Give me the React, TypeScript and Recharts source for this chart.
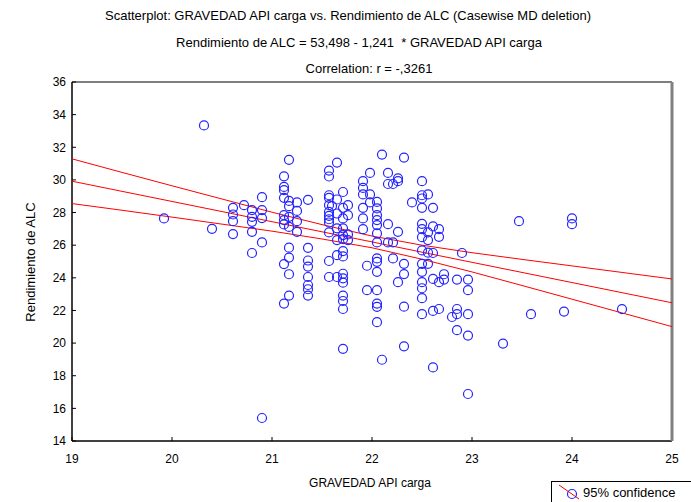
import { ScatterChart, Scatter, XAxis, YAxis } from "recharts"

// GRAVEDAD API carga (x) and Rendimiento de ALC (y)
const gravedad = [
  19.92, 20.32, 20.4, 20.61, 20.61, 20.61, 20.61, 20.72, 20.8, 20.8, 20.8, 20.8, 20.8,
  20.9, 20.9, 20.9, 20.9, 20.9,
  21.12, 21.12, 21.12, 21.12, 21.12, 21.12, 21.12, 21.12, 21.12,
  21.17, 21.17, 21.17, 21.17, 21.17, 21.17, 21.17, 21.17, 21.17,
  21.25, 21.25, 21.25, 21.25,
  21.36, 21.36, 21.36, 21.36, 21.36, 21.36, 21.36, 21.36,
  21.57, 21.57, 21.57, 21.57, 21.57, 21.57, 21.57, 21.57, 21.57, 21.57, 21.57, 21.57,
  21.6,
  21.65, 21.65, 21.65, 21.65, 21.65, 21.65, 21.65,
  21.71, 21.71, 21.71, 21.71, 21.71, 21.71, 21.71, 21.71, 21.71, 21.71, 21.71, 21.71, 21.71, 21.71, 21.71,
  21.76, 21.76, 21.76, 21.76,
  21.91, 21.91, 21.91, 21.91, 21.91, 21.91,
  21.95, 21.95,
  21.98, 21.98, 21.98,
  22.05, 22.05, 22.05, 22.05, 22.05, 22.05, 22.05, 22.05, 22.05, 22.05, 22.05, 22.05, 22.05, 22.05,
  22.1, 22.1,
  22.16, 22.16, 22.16, 22.16,
  22.21, 22.21, 22.21,
  22.26, 22.26, 22.26, 22.26,
  22.32, 22.32, 22.32, 22.32, 22.32,
  22.4,
  22.5, 22.5, 22.5, 22.5, 22.5, 22.5, 22.5, 22.5, 22.5, 22.5, 22.5, 22.5, 22.5, 22.5,
  22.56, 22.56, 22.56, 22.56, 22.56,
  22.61, 22.61, 22.61, 22.61, 22.61, 22.61,
  22.67, 22.67, 22.67, 22.67,
  22.72, 22.72,
  22.8,
  22.85, 22.85, 22.85, 22.85,
  22.9,
  22.96, 22.96, 22.96, 22.96, 22.96,
  23.31, 23.47, 23.59, 23.92, 24.0, 24.0, 24.5,
]

const rendimiento = [
  27.64, 33.34, 27.0, 28.29, 27.88, 27.47, 26.68, 28.45, 28.15, 27.74, 27.43, 26.82, 25.52,
  28.94, 28.15, 27.66, 26.17, 15.41,
  30.22, 29.57, 29.37, 28.9, 27.84, 27.53, 27.27, 24.84, 22.42,
  31.23, 28.71, 28.39, 27.74, 27.12, 25.85, 25.24, 24.22, 22.91,
  28.62, 28.1, 27.47, 26.82,
  28.78, 25.84, 25.06, 24.69, 24.05, 23.56, 23.3, 22.91,
  30.57, 30.21, 29.06, 28.9, 28.45, 28.04, 27.8, 27.59, 27.39, 26.78, 25.03, 24.05,
  28.4,
  31.06, 28.8, 27.94, 27.03, 26.31, 25.39, 24.05,
  29.26, 28.29, 27.64, 27.03, 26.62, 26.37, 25.64, 25.31, 24.25, 23.97, 23.7, 22.91, 22.58, 22.09, 19.65,
  28.45, 27.84, 26.66, 26.31,
  29.92, 29.51, 29.11, 28.29, 27.64, 26.98,
  24.74, 23.24,
  30.43, 29.11, 28.62,
  28.65, 28.25, 27.84, 27.54, 27.23, 26.72, 26.17, 25.19, 24.98, 24.37, 23.24, 22.42, 22.22, 21.28,
  31.55, 18.98,
  30.43, 29.75, 27.29, 26.17,
  29.75, 26.17, 25.19,
  30.1, 29.92, 26.82, 23.73,
  31.37, 24.86, 24.23, 22.23, 19.8,
  28.62,
  29.92, 29.06, 28.86, 28.29, 27.31, 26.98, 26.49, 25.68, 24.86, 24.37, 23.73, 23.36, 22.75, 21.77,
  29.11, 26.78, 26.31, 25.54, 24.86,
  28.29, 27.15, 25.52, 23.93, 21.97, 18.51,
  26.98, 26.51, 23.73, 22.09,
  24.22, 23.89,
  21.6,
  23.89, 22.09, 21.77, 20.79,
  25.52,
  23.89, 23.24, 21.77, 20.46, 16.88,
  19.97, 27.47, 21.77, 21.93, 27.64, 27.29, 22.08,
]

// fitted line and 95% confidence band, read at half-unit steps
const bandX = [19, 19.5, 20, 20.5, 21, 21.5, 22, 22.5, 23, 23.5, 24, 24.5, 25]
const fitY = [29.92, 29.3, 28.68, 28.06, 27.44, 26.82, 26.2, 25.57, 24.95, 24.33, 23.71, 23.09, 22.47]
const upperY = [31.29, 30.46, 29.64, 28.83, 28.02, 27.26, 26.56, 26.0, 25.54, 25.13, 24.73, 24.33, 23.93]
const lowerY = [28.55, 28.14, 27.72, 27.29, 26.86, 26.38, 25.84, 25.14, 24.36, 23.53, 22.69, 21.85, 21.01]

const xTicks = [19, 20, 21, 22, 23, 24, 25]
const yTicks = [14, 16, 18, 20, 22, 24, 26, 28, 30, 32, 34, 36]

const points = gravedad.map((x, i) => ({ x, y: rendimiento[i] }))
const toLine = (ys: number[]) => bandX.map((x, i) => ({ x, y: ys[i] }))

const FONT = '"Liberation Sans", Arial, sans-serif'
const tickStyle = { fontSize: 12, fill: "#000", fontFamily: FONT }

const Circle = (p: any) => (
  <circle cx={p.cx} cy={p.cy} r={4.5} fill="none" stroke="#2424ff" strokeWidth={1.2} />
)
const NoDot = () => <g />

const titleStyle = (top: number, center: number) => ({
  position: "absolute" as const,
  top,
  left: center - 320,
  width: 640,
  textAlign: "center" as const,
  fontSize: 13,
  whiteSpace: "nowrap" as const,
})

export default function App() {
  return (
    <div style={{ position: "absolute", left: 0, top: 0, width: 691, height: 502, background: "#fff", fontFamily: FONT }}>
      <div style={titleStyle(8, 348)}>
        Scatterplot: GRAVEDAD API carga vs. Rendimiento de ALC (Casewise MD deletion)
      </div>
      <div style={titleStyle(35, 359)}>Rendimiento de ALC = 53,498 - 1,241&nbsp; * GRAVEDAD API carga</div>
      <div style={titleStyle(61, 369)}>Correlation: r = -,3261</div>

      <ScatterChart width={691} height={502} margin={{ top: 81, right: 18, bottom: 60, left: 71 }}>
        <XAxis
          type="number"
          dataKey="x"
          domain={[19, 25]}
          ticks={xTicks}
          height={1}
          tickSize={-4}
          tickMargin={17}
          tick={tickStyle}
          stroke="#000"
          axisLine={{ stroke: "#000", strokeWidth: 1.5 }}
          allowDataOverflow
        />
        <XAxis
          xAxisId="top"
          orientation="top"
          type="number"
          domain={[19, 25]}
          ticks={xTicks}
          height={1}
          tickSize={-4}
          tick={false}
          stroke="#000"
        />
        <YAxis
          type="number"
          dataKey="y"
          domain={[14, 36]}
          ticks={yTicks}
          width={1}
          tickSize={-4}
          tickMargin={10}
          tick={tickStyle}
          stroke="#000"
          axisLine={{ stroke: "#000", strokeWidth: 1.5 }}
          allowDataOverflow
        />
        <YAxis
          yAxisId="right"
          orientation="right"
          type="number"
          domain={[14, 36]}
          ticks={yTicks}
          width={1}
          tickSize={-4}
          tick={false}
          stroke="#444"
          axisLine={{ stroke: "#808080", strokeWidth: 3 }}
        />
        <Scatter data={toLine(upperY)} line={{ stroke: "#ff0000", strokeWidth: 1 }} shape={NoDot} isAnimationActive={false} />
        <Scatter data={toLine(fitY)} line={{ stroke: "#ff0000", strokeWidth: 1 }} shape={NoDot} isAnimationActive={false} />
        <Scatter data={toLine(lowerY)} line={{ stroke: "#ff0000", strokeWidth: 1 }} shape={NoDot} isAnimationActive={false} />
        <Scatter data={points} shape={Circle} isAnimationActive={false} />
      </ScatterChart>

      <div style={{ position: "absolute", top: 476, left: 0, width: 740, textAlign: "center", fontSize: 12 }}>
        GRAVEDAD API carga
      </div>
      <div
        style={{
          position: "absolute",
          left: 30,
          top: 262,
          fontSize: 13,
          whiteSpace: "nowrap",
          transform: "translate(-50%, -50%) rotate(-90deg)",
        }}
      >
        Rendimiento de ALC
      </div>

      <div
        style={{
          position: "absolute",
          left: 551,
          top: 481,
          width: 150,
          height: 24,
          border: "1px solid #000",
          background: "#fff",
          boxSizing: "border-box",
        }}
      >
        <svg width={24} height={20} style={{ position: "absolute", left: 5, top: 1 }}>
          <line x1={2} y1={2} x2={22} y2={16} stroke="#ff0000" strokeWidth={1} />
          <circle cx={15} cy={11} r={4.5} fill="none" stroke="#2424ff" strokeWidth={1.2} />
        </svg>
        <span style={{ position: "absolute", left: 31, top: 3, fontSize: 13 }}>95% confidence</span>
      </div>
    </div>
  )
}
